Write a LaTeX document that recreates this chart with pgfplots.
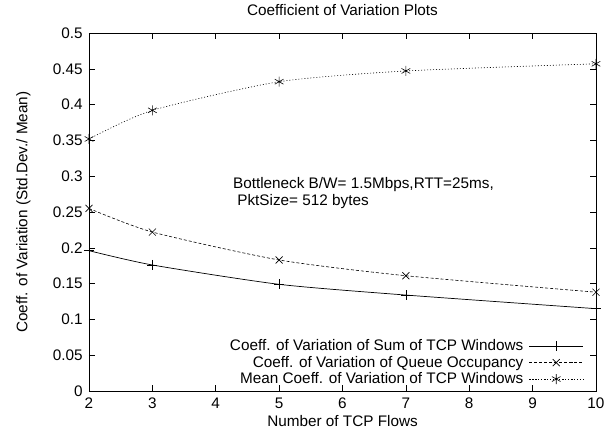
\documentclass[border=0pt]{standalone}
\usepackage{fontspec}
\setmainfont{Liberation Sans}
\usepackage{pgfplots}
\pgfplotsset{compat=1.18}
\begin{document}
\fontsize{15.3}{17}\selectfont
\begin{tikzpicture}
\begin{axis}[
  name=ax,
  scale only axis,
  width=507pt, height=358pt,
  xmin=2, xmax=10, ymin=0, ymax=0.5,
  xtick={2,3,...,10},
  ytick={0,0.05,...,0.5},
  tick align=inside,
  tick pos=both,
  major tick length=6pt,
  axis line style={line width=0.8pt},
  every tick/.style={black, line width=0.6pt},
  /pgf/number format/assume math mode=true,
  yticklabel style={/pgf/number format/fixed, /pgf/number format/precision=2, xshift=-1pt},
  xticklabel style={inner sep=1pt, yshift=-6pt},
  title={Coefficient of Variation Plots},
  title style={yshift=6pt},
  xlabel={Number of TCP Flows},
  ylabel={Coeff. of Variation (Std.Dev./ Mean)},
  xlabel style={inner sep=0pt, yshift=-5pt},
  ylabel style={yshift=12pt},
  legend plot pos=right,
  legend cell align=right,
  legend style={at={(rel axis cs:0.976,0.01)}, anchor=south east, draw=none, fill=none,
    inner sep=0pt, row sep=0pt, column sep=4pt, nodes={inner sep=1.5pt}},
  legend image code/.code={
    \draw[#1, mark repeat=2, mark phase=2] plot coordinates {(0cm,0cm) (0.95cm,0cm) (1.9cm,0cm)};
  },
  clip=false,
]
\addplot[black, line width=0.7pt, smooth, tension=0.4, mark=+, mark size=5pt, mark options={solid}]
  coordinates {(2,0.196) (3,0.176) (5,0.149) (7,0.134) (10,0.115)};
\addlegendentry{Coeff. of Variation of Sum of TCP Windows}
\addplot[black, line width=0.6pt, smooth, tension=0.4, dash pattern=on 3pt off 2pt, mark=x, mark size=5pt, mark options={solid}]
  coordinates {(2,0.255) (3,0.222) (5,0.183) (7,0.161) (10,0.138)};
\addlegendentry{Coeff. of Variation of Queue Occupancy}
\addplot[black, line width=0.6pt, smooth, tension=0.4, dash pattern=on 1pt off 2pt, mark=asterisk, mark size=5pt, mark options={solid}]
  coordinates {(2,0.352) (3,0.392) (5,0.432) (7,0.447) (10,0.457)};
\addlegendentry{Mean Coeff. of Variation of TCP Windows}
\node[anchor=west, align=left, inner sep=0pt] at (axis cs:4.27,0.2765)
  {Bottleneck B/W= 1.5Mbps,RTT=25ms,\\\ PktSize= 512 bytes};
\end{axis}
\pgfresetboundingbox
\path[use as bounding box] (ax.south west) ++(-89pt,-38pt) rectangle ++(611pt,429pt);
\end{tikzpicture}
\end{document}
